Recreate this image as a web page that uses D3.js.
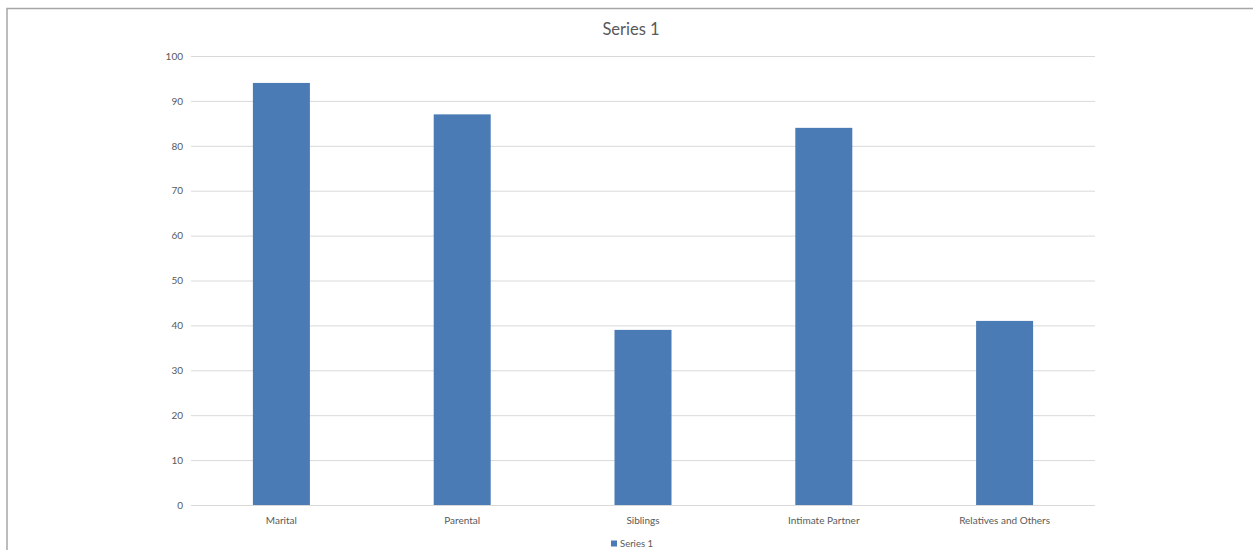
<!DOCTYPE html>
<html>
<head>
<meta charset="utf-8">
<script src="https://cdn.jsdelivr.net/npm/d3@7"></script>
<style>
  html, body { margin: 0; padding: 0; background: #fff; }
  svg { display: block; font-family: Lato, "Open Sans", sans-serif; }
</style>
</head>
<body>
<svg id="chart" width="1253" height="550"></svg>
<script>
const categories = ["Marital", "Parental", "Siblings", "Intimate Partner", "Relatives and Others"];
const values = [94, 87, 39, 84, 41];
const yTicks = [0, 10, 20, 30, 40, 50, 60, 70, 80, 90, 100];
const seriesName = "Series 1";

(function () {
const svg = d3.select("#chart");
const W = 1253, H = 550;

// outer frame
svg.append("path")
  .attr("d", `M7,${H} L7,8.5 L${W},8.5`)
  .attr("fill", "none").attr("stroke", "#a6a6a6").attr("stroke-width", 1.5);

const pLeft = 191, pRight = 1095, pTop = 56, pBottom = 505;

const x = d3.scaleBand().domain(categories).range([pLeft, pRight]).paddingInner(0).paddingOuter(0);
const y = d3.scaleLinear().domain([0, 100]).range([pBottom, pTop]);

// gridlines
svg.append("g").selectAll("line").data(yTicks).join("line")
  .attr("x1", pLeft).attr("x2", pRight)
  .attr("y1", d => y(d) + 0.5).attr("y2", d => y(d) + 0.5)
  .attr("stroke", "#d9d9d9").attr("stroke-width", 1);

// y axis labels
const yAxis = d3.axisLeft(y).tickValues(yTicks).tickSize(0).tickPadding(0);
const gy = svg.append("g").attr("transform", `translate(${pLeft - 8},0)`).call(yAxis);
gy.select(".domain").remove();
gy.selectAll("text").attr("fill", "#595959").attr("font-size", 10).attr("font-family", "Lato, sans-serif");

// bars
const bw = 57;
svg.append("g").selectAll("rect").data(values).join("rect")
  .attr("x", (d, i) => x(categories[i]) + x.bandwidth() / 2 - bw / 2)
  .attr("y", d => y(d))
  .attr("width", bw)
  .attr("height", d => y(0) - y(d))
  .attr("fill", "#4a7bb5");

// x axis labels
const xAxis = d3.axisBottom(x).tickSize(0).tickPadding(0);
const gx = svg.append("g").attr("transform", `translate(0,${pBottom + 12})`).call(xAxis);
gx.select(".domain").remove();
gx.selectAll("text").attr("fill", "#595959").attr("font-size", 10).attr("font-family", "Lato, sans-serif");

// title
svg.append("text").attr("x", 631).attr("y", 35)
  .attr("text-anchor", "middle").attr("fill", "#595959").attr("font-size", 16.5)
  .text(seriesName);

// legend
const lg = svg.append("g").attr("transform", "translate(611,540)");
lg.append("rect").attr("x", 0).attr("y", 0.5).attr("width", 6).attr("height", 6).attr("fill", "#4a7bb5");
lg.append("text").attr("x", 9).attr("y", 7).attr("fill", "#595959").attr("font-size", 9.5).text(seriesName);
})();
</script>
</body>
</html>
